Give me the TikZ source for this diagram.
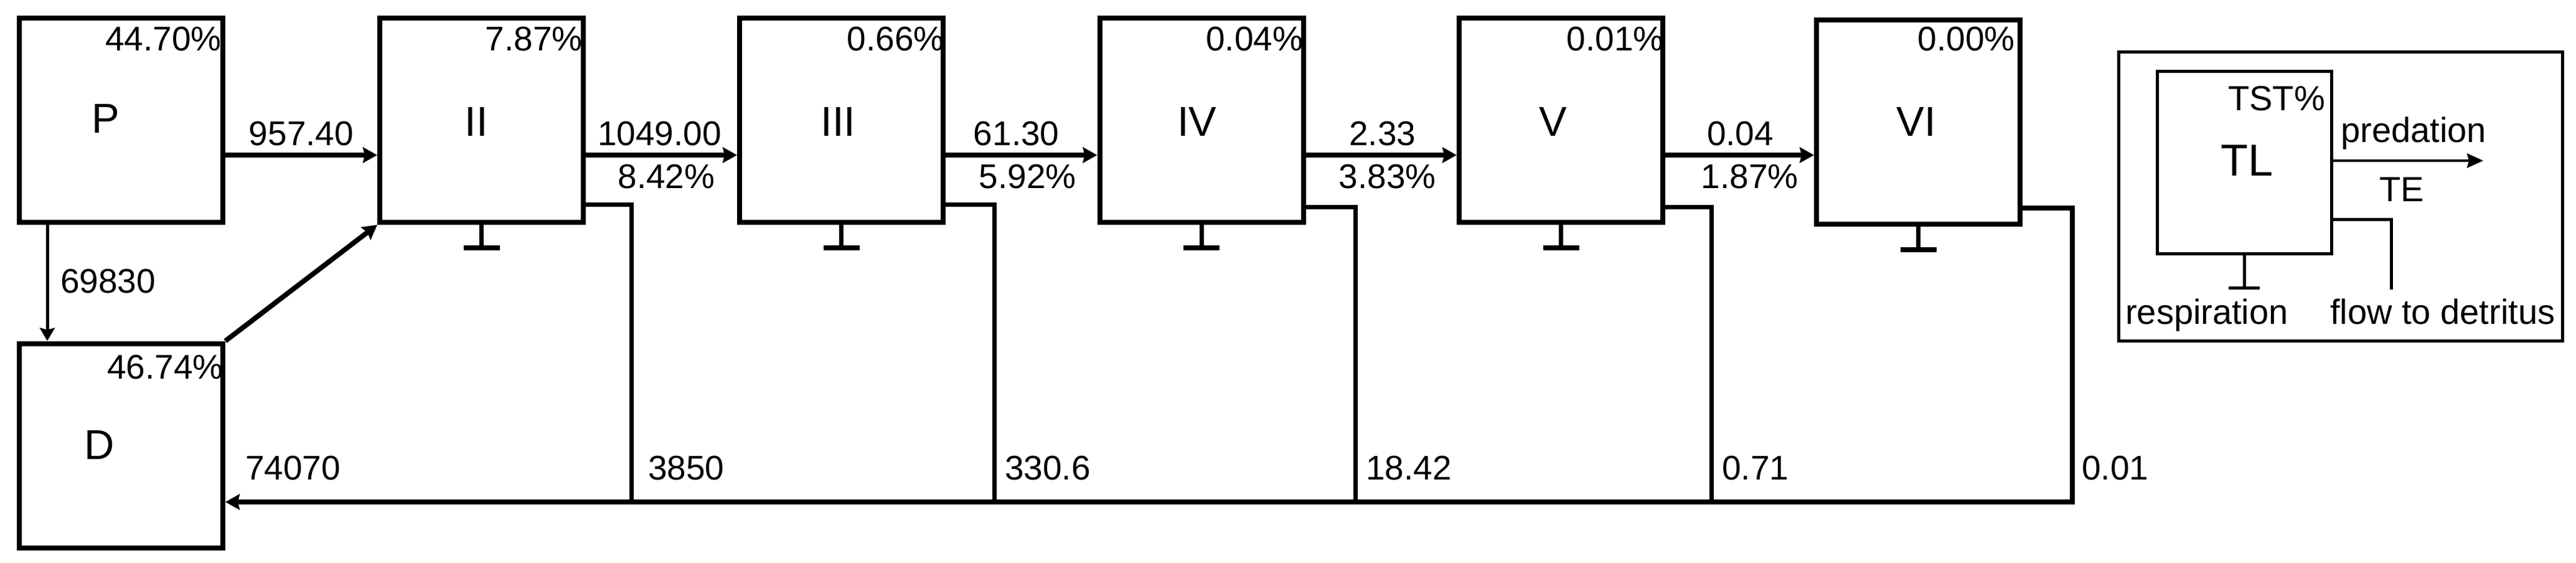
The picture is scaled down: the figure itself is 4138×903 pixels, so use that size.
\documentclass[tikz,border=0pt]{standalone}
\usepackage{fontspec}
\setmainfont{Liberation Sans}
\usetikzlibrary{arrows.meta,calc}
\begin{document}
\begin{tikzpicture}[x=1pt,y=-1pt,
  tlbox/.style={draw, line width=8pt, minimum width=327pt, minimum height=328pt, inner sep=0pt},
  num/.style={font=\fontsize{55}{60}\selectfont, inner sep=0pt},
  big/.style={font=\fontsize{67}{70}\selectfont, inner sep=0pt},
  legtxt/.style={font=\fontsize{56}{60}\selectfont, inner sep=0pt},
  flow/.style={line width=8pt, line join=miter, -{Stealth[length=23pt,width=25pt,inset=3pt]}},
  thinflow/.style={line width=5pt, -{Stealth[length=21pt,width=24pt,inset=3pt]}},
  det/.style={line width=7pt, line join=miter},
  stem/.style={line width=7pt},
  bar/.style={line width=8pt},
  legline/.style={line width=5pt, line join=miter},
  legflow/.style={line width=4.5pt, -{Stealth[length=26pt,width=23pt,inset=3pt]}}
]
\useasboundingbox (0,0) rectangle (4138,903);
% boxes
\node[tlbox] (P)   at (194.5,193) {};
\node[tlbox] (II)  at (773.5,193) {};
\node[tlbox] (III) at (1351.5,193) {};
\node[tlbox] (IV)  at (1930,193) {};
\node[tlbox] (V)   at (2507.5,193) {};
\node[tlbox] (VI)  at (3081.5,196) {};
\node[tlbox] (D)   at (194.5,715.5) {};
% box names
\node[big, anchor=base] (nP)   at ($(P.center)+(-25,20)$) {P};
\node[big, anchor=base] (nII)  at ($(II.center)+(-8,25)$) {II};
\node[big, anchor=base] (nIII) at ($(III.center)+(-5,25)$) {III};
\node[big, anchor=base] (nIV)  at ($(IV.center)+(-7,25)$) {IV};
\node[big, anchor=base] (nV)   at ($(V.center)+(-13,25)$) {V};
\node[big, anchor=base] (nVI)  at ($(VI.center)+(-3,22)$) {VI};
\node[big, anchor=base] (nD)   at ($(D.center)+(-35,22)$) {D};
% TST percentages
\node[num, anchor=base east] (tP)   at ($(P.north east)+(-6,56)$) {44.70\%};
\node[num, anchor=base east] (tII)  at ($(II.north east)+(-5,56)$) {7.87\%};
\node[num, anchor=base east] (tIII) at ($(III.north east)+(-2,56)$) {0.66\%};
\node[num, anchor=base east] (tIV)  at ($(IV.north east)+(-4,56)$) {0.04\%};
\node[num, anchor=base east] (tV)   at ($(V.north east)+(-2,56)$) {0.01\%};
\node[num, anchor=base east] (tVI)  at ($(VI.north east)+(-12,53)$) {0.00\%};
\node[num, anchor=base east] (tD)   at ($(D.north east)+(-3,61)$) {46.74\%};
% predation arrows
\coordinate (a1) at ($(P.east)+(0,56)$);
\coordinate (a2) at ($(II.east)+(0,56)$);
\coordinate (a3) at ($(III.east)+(0,56)$);
\coordinate (a4) at ($(IV.east)+(0,56)$);
\coordinate (a5) at ($(V.east)+(0,56)$);
\draw[flow] (a1) -- (II.west |- a1);
\draw[flow] (a2) -- (III.west |- a2);
\draw[flow] (a3) -- (IV.west |- a3);
\draw[flow] (a4) -- (V.west |- a4);
\draw[flow] (a5) -- (VI.west |- a5);
% arrow labels
\node[num, anchor=base] (f1) at ($(a1)!0.5!(II.west |- a1)+(0,-16)$) {957.40};
\node[num, anchor=base] (f2) at ($(a2)!0.5!(III.west |- a2)+(-3,-16)$) {1049.00};
\node[num, anchor=base] (e2) at ($(a2)!0.5!(III.west |- a2)+(8,53)$) {8.42\%};
\node[num, anchor=base] (f3) at ($(a3)!0.5!(IV.west |- a3)+(-8,-16)$) {61.30};
\node[num, anchor=base] (e3) at ($(a3)!0.5!(IV.west |- a3)+(10,53)$) {5.92\%};
\node[num, anchor=base] (f4) at ($(a4)!0.5!(V.west |- a4)+(2,-16)$) {2.33};
\node[num, anchor=base] (e4) at ($(a4)!0.5!(V.west |- a4)+(10,53)$) {3.83\%};
\node[num, anchor=base] (f5) at ($(a5)!0.5!(VI.west |- a5)+(1,-16)$) {0.04};
\node[num, anchor=base] (e5) at ($(a5)!0.5!(VI.west |- a5)+(16,53)$) {1.87\%};
% P to D
\draw[thinflow] ($(P.south west)+(49,0)$) -- ($(D.north west)+(49,0)$);
\node[num, anchor=base west] (pd) at (97,470) {69830};
% D to II
\draw[flow] (D.north east) -- (II.south west);
% respiration symbols
\foreach \b in {II,III,IV,V,VI}{
  \draw[stem] (\b.south) -- ++(0,37) coordinate (r\b);
  \draw[bar] ($(r\b)+(-29,0)$) -- ($(r\b)+(29,0)$);
}
% flows to detritus
\coordinate (v2) at (1014,806);
\coordinate (v3) at (1597,806);
\coordinate (v4) at (2177,806);
\coordinate (v5) at (2749,806);
\coordinate (v6) at (3329,806);
\draw[det] ($(II.east)+(0,135)$) -| (v2);
\draw[det] ($(III.east)+(0,135)$) -| (v3);
\draw[det] ($(IV.east)+(0,139)$) -| (v4);
\draw[det] ($(V.east)+(0,139)$) -| (v5);
\draw[flow] ($(VI.east)+(0,138)$) -| (v6) -- (D.east |- v6);
\node[num, anchor=base west] (d1) at (394,770) {74070};
\node[num, anchor=base west] (d2) at (1041,770) {3850};
\node[num, anchor=base west] (d3) at (1614,770) {330.6};
\node[num, anchor=base west] (d4) at (2194,770) {18.42};
\node[num, anchor=base west] (d5) at (2766,770) {0.71};
\node[num, anchor=base west] (d6) at (3344,770) {0.01};
% legend
\node[draw, legline, minimum width=713.5pt, minimum height=464.3pt, inner sep=0pt] (leg) at (3759.75,315.35) {};
\node[draw, legline, minimum width=280.5pt, minimum height=293.3pt, inner sep=0pt] (TLb) at (3605.25,260.85) {};
\node[legtxt, anchor=base east] (tst) at (3735,177) {TST\%};
\node[font=\fontsize{72}{76}\selectfont, inner sep=0pt, anchor=base] (tl) at (3609,282) {TL};
\coordinate (predtip) at (3989,258);
\draw[legflow] (TLb.east |- predtip) -- (predtip);
\node[legtxt, anchor=base west] (pred) at (3760,228) {predation};
\node[legtxt, anchor=base] (te) at (3858,323) {TE};
\coordinate (dettip) at (3841,465);
\draw[legline] ($(TLb.east)+(0,92)$) -| (dettip);
\draw[legline] (TLb.south) -- ++(0,52) coordinate (rleg);
\draw[legline] ($(rleg)+(-25,0)$) -- ($(rleg)+(25,0)$);
\node[legtxt, anchor=base west] (resp) at (3414,520) {respiration};
\node[legtxt, anchor=base west] (fdet) at (3743,520) {flow to detritus};
\end{tikzpicture}
\end{document}
